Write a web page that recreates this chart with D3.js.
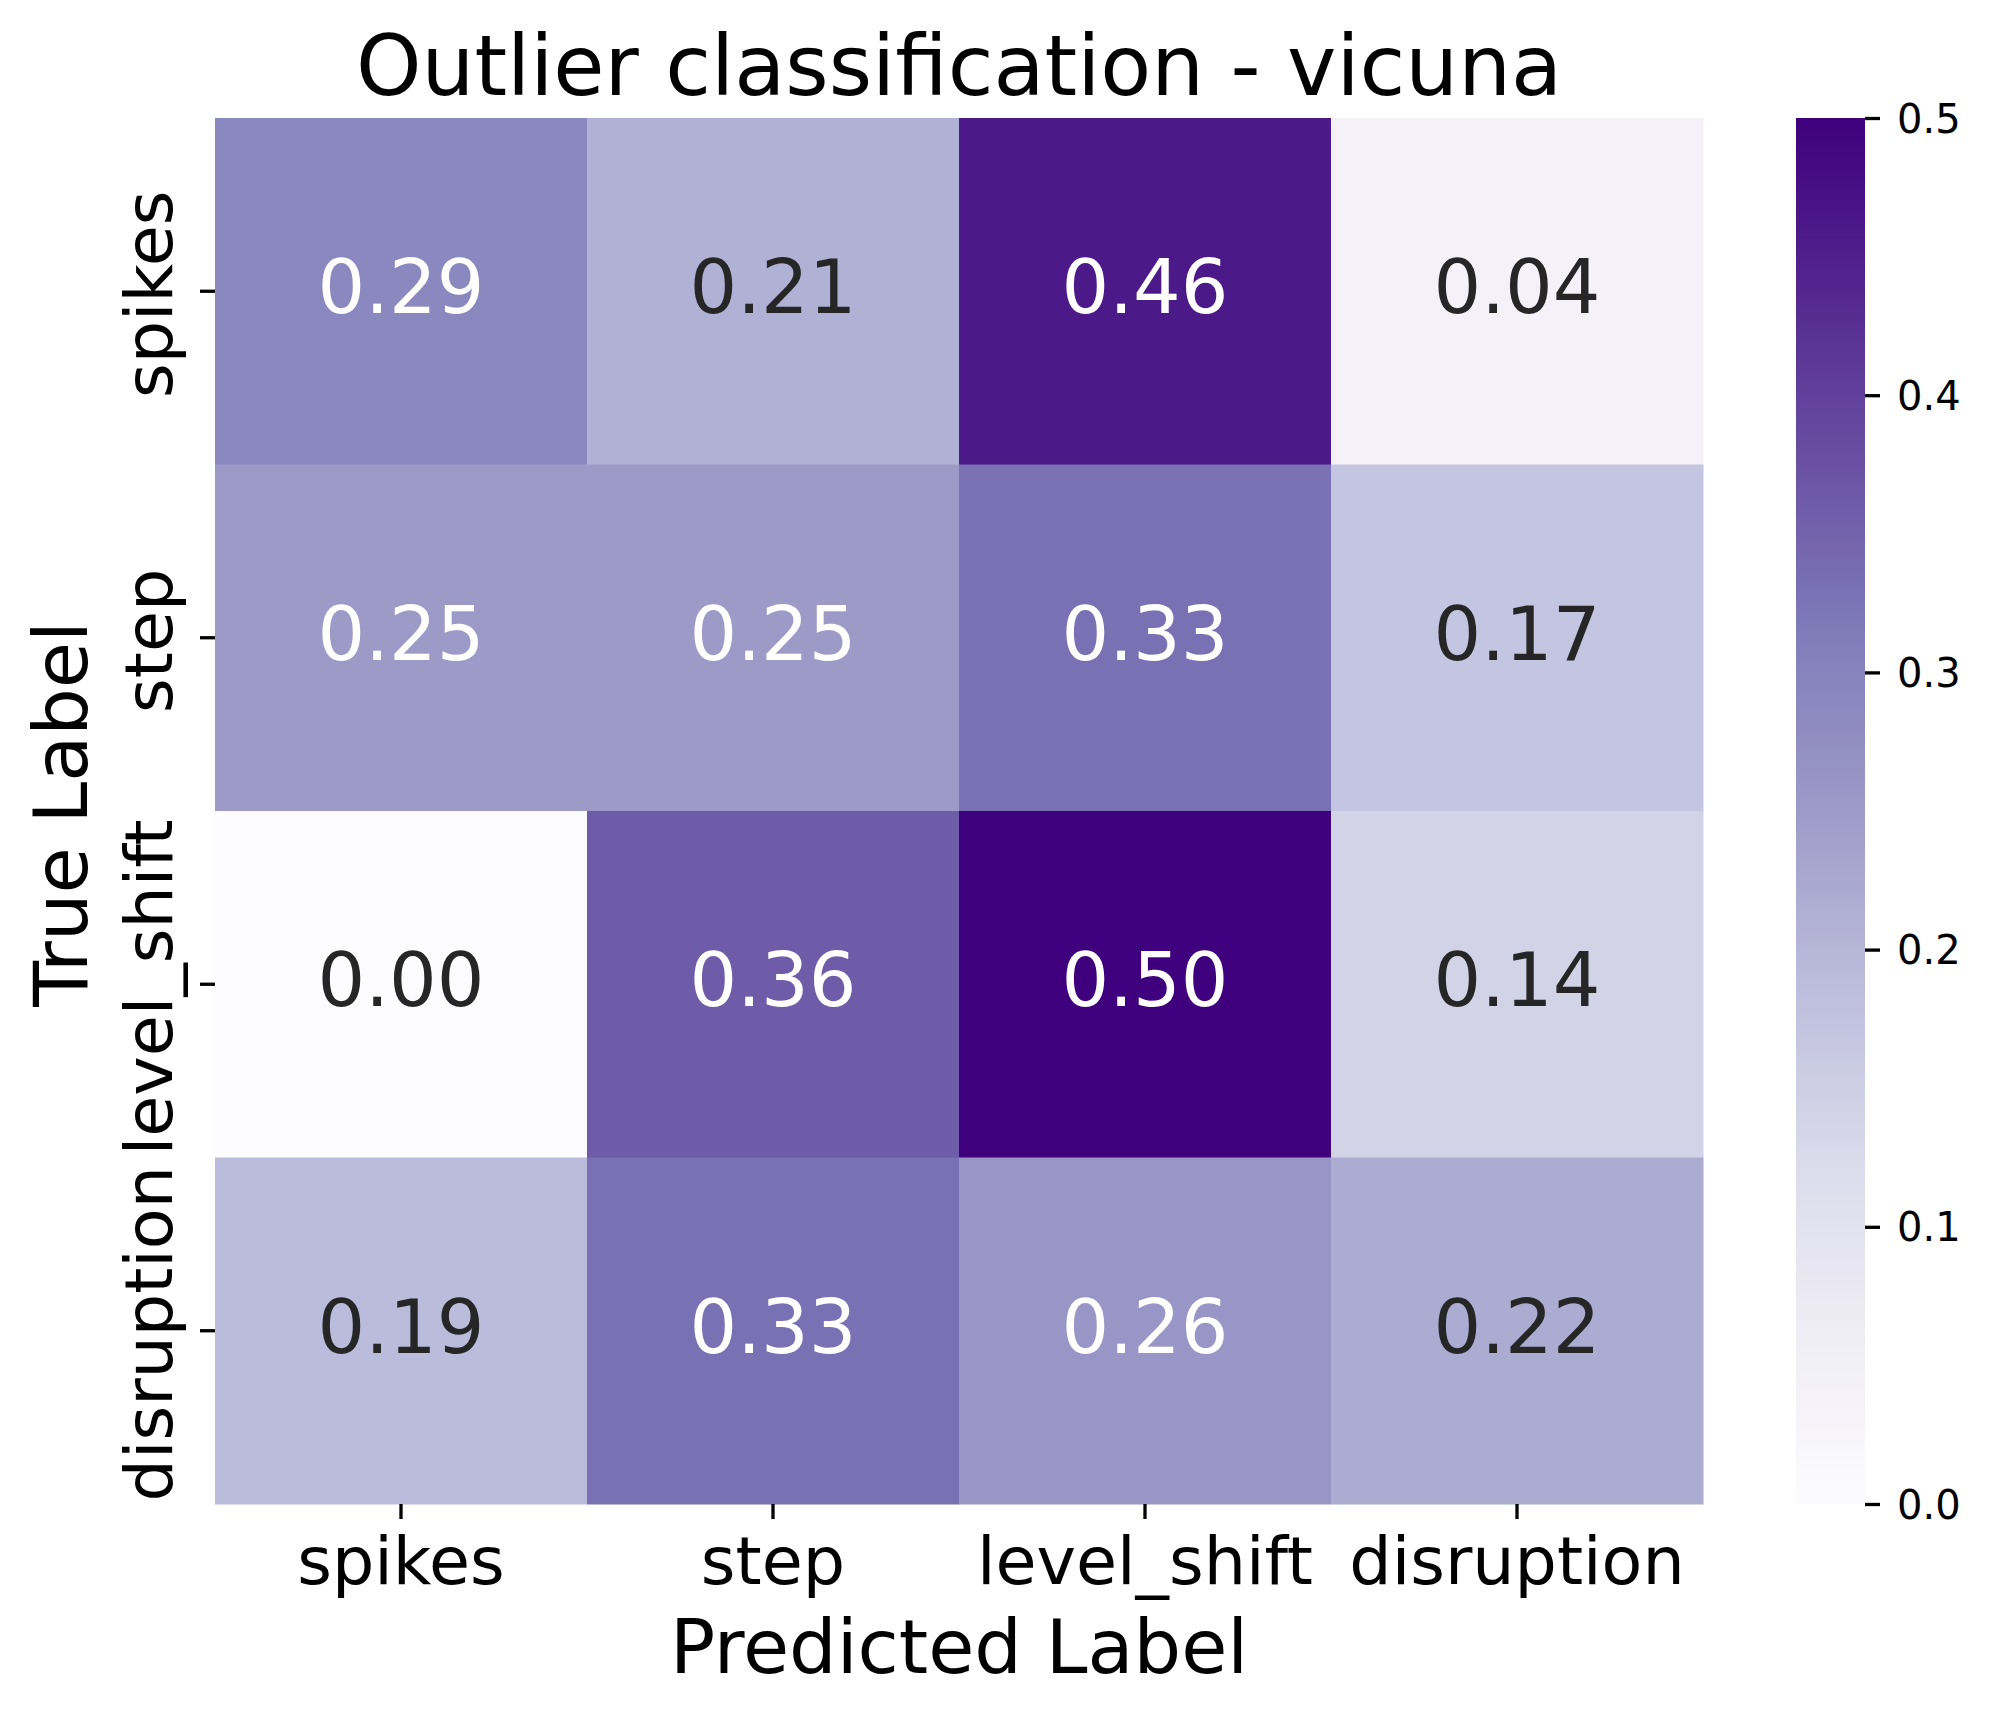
<!DOCTYPE html>
<html>
<head>
<meta charset="utf-8">
<script src="https://cdn.jsdelivr.net/npm/d3@7"></script>
<style>
  body { margin: 0; background: #fff; }
  text { font-family: "DejaVu Sans", sans-serif; }
</style>
</head>
<body>
<div id="chart"></div>
<script>
// ---- data ----
const trueLabels = ['spikes', 'step', 'level_shift', 'disruption'];
const predLabels = ['spikes', 'step', 'level_shift', 'disruption'];
const spikesRow = [0.29, 0.21, 0.46, 0.04];
const stepRow = [0.25, 0.25, 0.33, 0.17];
const levelShiftRow = [0.00, 0.36, 0.50, 0.14];
const disruptionRow = [0.19, 0.33, 0.26, 0.22];
const colorbarTicks = [0.0, 0.1, 0.2, 0.3, 0.4, 0.5];
const titleText = 'Outlier classification - vicuna';

// matplotlib "Purples" anchor colours
const purples = ['#fcfbfd', '#efedf5', '#dadaeb', '#bcbddc', '#9e9ac8',
  '#807dba', '#6a51a3', '#54278f', '#3f007d'];

const rows = [spikesRow, stepRow, levelShiftRow, disruptionRow];

const W = 1990, H = 1719;
const plot = { left: 215, right: 1703, top: 118, bottom: 1504 };
const cbar = { left: 1796, right: 1865 };
const vmin = 0, vmax = 0.5;

const svg = d3.select('#chart').append('svg')
  .attr('width', W).attr('height', H);

const color = d3.scaleLinear()
  .domain(d3.range(purples.length).map(i => vmin + (vmax - vmin) * i / (purples.length - 1)))
  .range(purples)
  .interpolate(d3.interpolateRgb)
  .clamp(true);

const x = d3.scaleBand().domain(predLabels).range([plot.left, plot.right]);
const y = d3.scaleBand().domain(trueLabels).range([plot.top, plot.bottom]);

const cells = [];
rows.forEach((r, i) => r.forEach((v, j) => {
  cells.push({ t: trueLabels[i], p: predLabels[j], v });
}));

// seaborn style text colour choice
function lum(c) {
  const rgb = d3.rgb(c);
  const f = u => { u /= 255; return u <= 0.03928 ? u / 12.92 : Math.pow((u + 0.055) / 1.055, 2.4); };
  return 0.2126 * f(rgb.r) + 0.7152 * f(rgb.g) + 0.0722 * f(rgb.b);
}

svg.append('g').selectAll('rect')
  .data(cells).enter().append('rect')
  .attr('x', d => x(d.p))
  .attr('y', d => y(d.t))
  .attr('width', x.bandwidth() + 0.5)
  .attr('height', y.bandwidth() + 0.5)
  .attr('fill', d => color(d.v));

svg.append('g').selectAll('text')
  .data(cells).enter().append('text')
  .attr('x', d => x(d.p) + x.bandwidth() / 2)
  .attr('y', d => y(d.t) + y.bandwidth() / 2 + 22)
  .attr('text-anchor', 'middle')
  .attr('font-size', 75)
  .attr('fill', d => lum(color(d.v)) > 0.408 ? '#262626' : '#ffffff')
  .text(d => d.v.toFixed(2));

// ---- axes ----
const xAxis = svg.append('g')
  .attr('transform', `translate(0,${plot.bottom})`)
  .call(d3.axisBottom(x).tickSize(15).tickPadding(0));
xAxis.select('.domain').remove();
xAxis.selectAll('line').attr('stroke', '#000').attr('stroke-width', 3.3);
xAxis.selectAll('text').remove();
svg.append('g').selectAll('text')
  .data(predLabels).enter().append('text')
  .attr('x', d => x(d) + x.bandwidth() / 2)
  .attr('y', 1584)
  .attr('text-anchor', 'middle')
  .attr('font-size', 66.7)
  .attr('fill', '#000')
  .text(d => d);

const yAxis = svg.append('g')
  .attr('transform', `translate(${plot.left},0)`)
  .call(d3.axisLeft(y).tickSize(15).tickPadding(0));
yAxis.select('.domain').remove();
yAxis.selectAll('line').attr('stroke', '#000').attr('stroke-width', 3.3);
yAxis.selectAll('text').remove();
svg.append('g').selectAll('text')
  .data(trueLabels).enter().append('text')
  .attr('transform', d => `translate(172,${y(d) + y.bandwidth() / 2 + 3}) rotate(-90)`)
  .attr('text-anchor', 'middle')
  .attr('font-size', 66.7)
  .attr('fill', '#000')
  .text(d => d);

// axis labels and title
const midX = (plot.left + plot.right) / 2;
const midY = (plot.top + plot.bottom) / 2;
svg.append('text')
  .attr('x', midX).attr('y', 1673)
  .attr('text-anchor', 'middle').attr('font-size', 75)
  .text('Predicted Label');
svg.append('text')
  .attr('transform', `translate(87,${midY + 3}) rotate(-90)`)
  .attr('text-anchor', 'middle').attr('font-size', 75)
  .text('True Label');
svg.append('text')
  .attr('x', midX).attr('y', 95)
  .attr('text-anchor', 'middle').attr('font-size', 83.3)
  .text(titleText);

// ---- colorbar ----
const cy = d3.scaleLinear().domain([vmin, vmax]).range([plot.bottom, plot.top]);
const grad = svg.append('defs').append('linearGradient')
  .attr('id', 'cbar-grad')
  .attr('x1', 0).attr('y1', 1).attr('x2', 0).attr('y2', 0);
grad.selectAll('stop')
  .data(d3.range(0, 101))
  .enter().append('stop')
  .attr('offset', d => d + '%')
  .attr('stop-color', d => color(vmin + (vmax - vmin) * d / 100));

svg.append('rect')
  .attr('x', cbar.left).attr('y', cy(vmax))
  .attr('width', cbar.right - cbar.left)
  .attr('height', cy(vmin) - cy(vmax))
  .attr('fill', 'url(#cbar-grad)');

const cAxis = svg.append('g')
  .attr('transform', `translate(${cbar.right},0)`)
  .call(d3.axisRight(cy).tickValues(colorbarTicks).tickFormat(d3.format('.1f'))
    .tickSize(15).tickPadding(17));
cAxis.select('.domain').remove();
cAxis.selectAll('line').attr('stroke', '#000').attr('stroke-width', 3.3);
cAxis.selectAll('text')
  .attr('font-size', 40)
  .attr('font-family', '"DejaVu Sans", sans-serif')
  .attr('fill', '#000')
  .attr('dy', '0.35em');
</script>
</body>
</html>
